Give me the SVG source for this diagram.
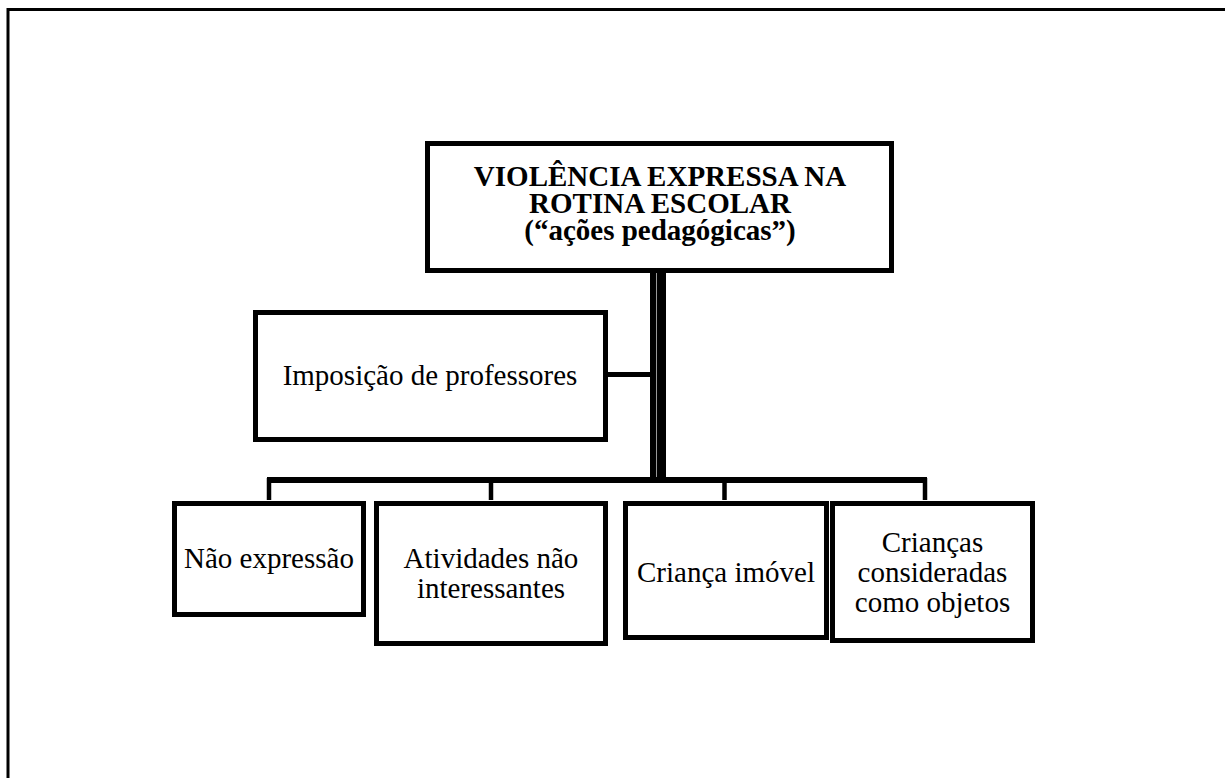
<svg xmlns="http://www.w3.org/2000/svg" width="1225" height="778" viewBox="0 0 1225 778">
<style>
.box{fill:#fff;stroke:#000;stroke-width:5}
.t{font-family:"Liberation Serif","Times New Roman",serif;font-size:29px;fill:#000;text-anchor:middle}
.b{font-weight:bold}
.ln{stroke:#000;fill:none}
</style>
<rect width="1225" height="778" fill="#fff"/>
<g id="frame">
<line x1="8" y1="9.5" x2="1225" y2="9.5" stroke="#000" stroke-width="3"/>
<line x1="8" y1="8" x2="8" y2="778" stroke="#000" stroke-width="3"/>
</g>
<g id="connectors">
<rect x="650" y="272" width="16" height="211" fill="#000"/>
<line x1="656.5" y1="273" x2="656.5" y2="477" stroke="#999" stroke-width="1"/>
<line class="ln" x1="606" y1="374.5" x2="651" y2="374.5" stroke-width="5"/>
<line class="ln" x1="267" y1="480" x2="927" y2="480" stroke-width="6"/>
<line class="ln" x1="269" y1="478" x2="269" y2="500" stroke-width="4.5"/>
<line class="ln" x1="491" y1="478" x2="491" y2="500" stroke-width="4.5"/>
<line class="ln" x1="724.5" y1="478" x2="724.5" y2="500" stroke-width="4.5"/>
<line class="ln" x1="925" y1="478" x2="925" y2="500" stroke-width="4.5"/>
</g>
<g id="root">
<rect class="box" x="427.5" y="143.5" width="464" height="127"/>
<text class="t b" x="660" y="186">VIOLÊNCIA EXPRESSA NA</text>
<text class="t b" x="660" y="213">ROTINA ESCOLAR</text>
<text class="t b" x="660" y="240">(“ações pedagógicas”)</text>
</g>
<g id="imposicao">
<rect class="box" x="255.5" y="312.5" width="350" height="127"/>
<text class="t" x="430" y="385">Imposição de professores</text>
</g>
<g id="nao-expressao">
<rect class="box" x="174.5" y="503.5" width="189" height="111"/>
<text class="t" x="269" y="568">Não expressão</text>
</g>
<g id="atividades">
<rect class="box" x="376.5" y="503.5" width="229" height="140"/>
<text class="t" x="491" y="568">Atividades não</text>
<text class="t" x="491" y="598">interessantes</text>
</g>
<g id="crianca-imovel">
<rect class="box" x="625.5" y="503.5" width="201" height="134"/>
<text class="t" x="726" y="582">Criança imóvel</text>
</g>
<g id="criancas-objetos">
<rect class="box" x="832.5" y="503.5" width="200" height="137"/>
<text class="t" x="932.5" y="552">Crianças</text>
<text class="t" x="932.5" y="582">consideradas</text>
<text class="t" x="932.5" y="612">como objetos</text>
</g>
</svg>
